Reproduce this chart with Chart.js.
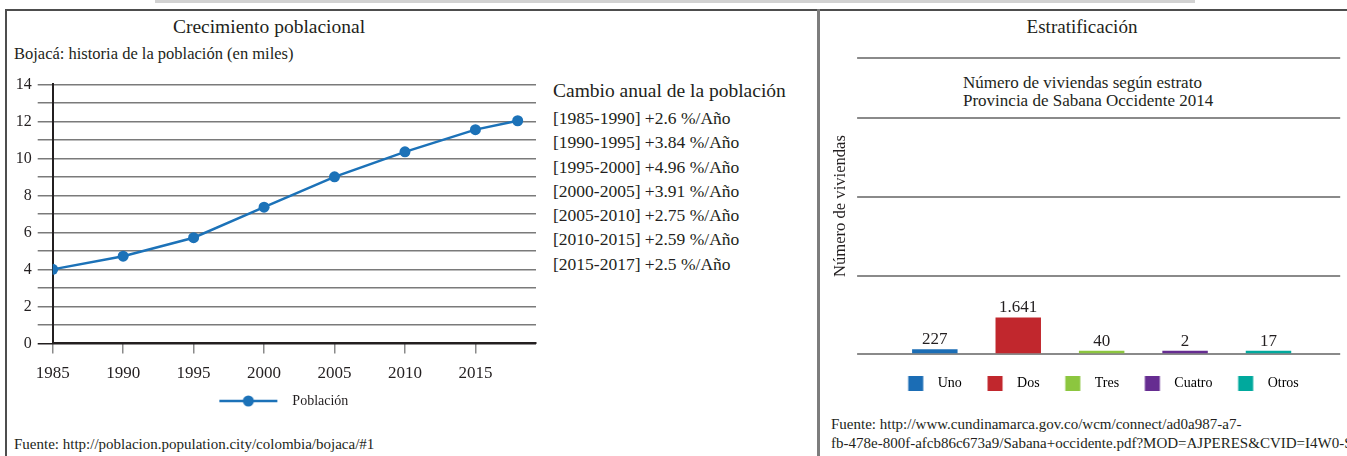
<!DOCTYPE html>
<html lang="es">
<head>
<meta charset="utf-8">
<title>Crecimiento poblacional / Estratificación</title>
<script src="https://cdn.jsdelivr.net/npm/chart.js@4.4.1/dist/chart.umd.min.js"></script>
<style>
  html, body { margin:0; padding:0; width:1347px; height:456px; overflow:hidden; background:#fff; }
  body { position:relative; font-family:"Liberation Serif","Times New Roman",serif; color:#231f20; }
  .abs { position:absolute; white-space:nowrap; }
  .rule { position:absolute; }
  canvas { position:absolute; }
</style>
</head>
<body>

<!-- frame -->
<div class="rule" style="left:155px;top:0;width:1040px;height:3px;background:#d2d2d2"></div>
<div class="rule" style="left:5px;top:9px;width:1342px;height:2px;background:#4d4d4d"></div>
<div class="rule" style="left:5px;top:9px;width:2px;height:447px;background:#4d4d4d"></div>
<div class="rule" style="left:817px;top:9px;width:3px;height:447px;background:#7d7d7d"></div>

<!-- left panel texts -->
<div class="abs" style="left:269px;top:16px;transform:translateX(-50%);font-size:19.5px;line-height:22px">Crecimiento poblacional</div>
<div class="abs" style="left:14px;top:44px;font-size:16.5px;line-height:20px">Bojacá: historia de la población (en miles)</div>
<div class="abs" style="left:553px;top:80px;font-size:19.5px;line-height:22px">Cambio anual de la población</div>
<div class="abs" id="cambioList" style="left:553px;top:106px;font-size:17.5px;line-height:24.3px"></div>
<div class="abs" style="left:14px;top:435px;font-size:15px;line-height:18px">Fuente: http://poblacion.population.city/colombia/bojaca/#1</div>

<!-- right panel texts -->
<div class="abs" style="left:1082px;top:16px;transform:translateX(-50%);font-size:19px;line-height:22px">Estratificación</div>
<div class="abs" style="left:963px;top:74px;font-size:17px;line-height:18px">Número de viviendas según estrato<br>Provincia de Sabana Occidente 2014</div>
<div class="abs" style="left:831px;top:415px;font-size:15px;line-height:19px">Fuente: http://www.cundinamarca.gov.co/wcm/connect/ad0a987-a7-<br>fb-478e-800f-afcb86c673a9/Sabana+occidente.pdf?MOD=AJPERES&amp;CVID=I4W0-S-</div>

<canvas id="popChart" width="560" height="360" style="left:0;top:62px;width:560px;height:360px"></canvas>
<canvas id="estChart" width="550" height="359" style="left:822px;top:42px;width:550px;height:359px"></canvas>

<script>
// ---- data: población de Bojacá (miles) ----
const popYears  = [1985, 1990, 1995, 2000, 2005, 2010, 2015, 2018];
const popValues = [4.0, 4.71, 5.71, 7.36, 9.0, 10.35, 11.55, 12.03];
const popXTicks = [1985, 1990, 1995, 2000, 2005, 2010, 2015];
const popYTicks = [0, 1, 2, 3, 4, 5, 6, 7, 8, 9, 10, 11, 12, 13, 14];

// ---- data: cambio anual ----
const cambioPeriodos = ['1985-1990', '1990-1995', '1995-2000', '2000-2005', '2005-2010', '2010-2015', '2015-2017'];
const cambioTasas    = ['+2.6', '+3.84', '+4.96', '+3.91', '+2.75', '+2.59', '+2.5'];

// ---- data: viviendas según estrato ----
const estratoLabels = ['Uno', 'Dos', 'Tres', 'Cuatro', 'Otros'];
const estratoValues = [227, 1641, 40, 2, 17];
const estratoColors = ['#1b6db5', '#c1272d', '#8cc63f', '#662d91', '#00a99d'];
const estratoGrid   = [0, 3500, 7000, 10500, 13200];

const FONT = '"Liberation Serif", "Times New Roman", serif';
const TEXT = '#231f20';
const BLUE = '#1c72b8';

Chart.defaults.font.family = FONT;
Chart.defaults.color = TEXT;

document.getElementById('cambioList').innerHTML =
  cambioPeriodos.map((p, i) => `[${p}] ${cambioTasas[i]} %/Año`).join('<br>');

const fmtMiles = v => String(v).replace(/\B(?=(\d{3})+(?!\d))/g, '.');

// legend symbol: line with a dot
function lineDotSymbol() {
  const c = document.createElement('canvas');
  c.width = 88; c.height = 14;
  const g = c.getContext('2d');
  g.strokeStyle = BLUE; g.lineWidth = 2.5;
  g.beginPath(); g.moveTo(22, 7); g.lineTo(80, 7); g.stroke();
  g.fillStyle = BLUE;
  g.beginPath(); g.arc(51, 7, 5.5, 0, Math.PI * 2); g.fill();
  return c;
}

// legend symbol: square with space around it
function squareSymbol(color) {
  const c = document.createElement('canvas');
  c.width = 30; c.height = 15;
  const g = c.getContext('2d');
  g.fillStyle = color;
  g.fillRect(7.5, 0, 15, 15);
  return c;
}

// ---- Crecimiento poblacional ----
new Chart(document.getElementById('popChart'), {
  type: 'line',
  data: {
    datasets: [{
      label: 'Población',
      data: popYears.map((x, i) => ({ x, y: popValues[i] })),
      borderColor: BLUE,
      backgroundColor: BLUE,
      borderWidth: 2.5,
      pointRadius: 5.5,
      pointBackgroundColor: BLUE,
      pointBorderWidth: 0,
      tension: 0
    }]
  },
  options: {
    responsive: false,
    animation: false,
    layout: { padding: { left: 9.7, right: 24, top: 22.3, bottom: 4 } },
    plugins: {
      legend: {
        position: 'bottom',
        labels: {
          usePointStyle: true,
          pointStyle: lineDotSymbol(),
          pointStyleWidth: 88,
          boxHeight: 14,
          padding: 0.2,
          color: TEXT,
          font: { size: 14 }
        }
      },
      tooltip: { enabled: false }
    },
    scales: {
      x: {
        type: 'linear',
        min: 1985,
        max: 2019.3,
        afterBuildTicks: s => { s.ticks = popXTicks.map(v => ({ value: v })); },
        grid: { drawOnChartArea: false, color: '#8a8a8a', lineWidth: 1.5, tickLength: 10 },
        border: { color: TEXT, width: 2 },
        ticks: { padding: 10, color: TEXT, font: { size: 17 }, callback: v => String(v) }
      },
      y: {
        min: 0,
        max: 14,
        afterBuildTicks: s => { s.ticks = popYTicks.map(v => ({ value: v })); },
        grid: {
          color: ctx => (ctx.tick && ctx.tick.value === 0 ? TEXT : '#7a7a7a'),
          lineWidth: 1.5,
          tickLength: 15
        },
        border: { color: TEXT, width: 2 },
        ticks: { autoSkip: false, padding: 6, color: TEXT, font: { size: 16 }, callback: v => (v % 2 === 0 ? String(v) : '') }
      }
    }
  }
});

// ---- Estratificación ----
const barValueLabels = {
  id: 'barValueLabels',
  afterDatasetsDraw(chart) {
    const ctx = chart.ctx;
    const meta = chart.getDatasetMeta(0);
    ctx.save();
    ctx.font = `17px ${FONT}`;
    ctx.fillStyle = TEXT;
    ctx.textAlign = 'center';
    ctx.textBaseline = 'alphabetic';
    meta.data.forEach((bar, i) => {
      ctx.fillText(fmtMiles(estratoValues[i]), bar.x, bar.y - 5);
    });
    ctx.restore();
  }
};

new Chart(document.getElementById('estChart'), {
  type: 'bar',
  data: {
    labels: estratoLabels,
    datasets: [{
      data: estratoValues,
      backgroundColor: estratoColors,
      borderWidth: 0,
      barPercentage: 0.545,
      categoryPercentage: 1,
      minBarLength: 3.6
    }]
  },
  options: {
    responsive: false,
    animation: false,
    layout: { padding: { left: 7, right: 1.5, top: 0, bottom: 0.5 } },
    plugins: {
      legend: {
        position: 'bottom',
        labels: {
          usePointStyle: true,
          pointStyleWidth: 30,
          boxHeight: 14,
          padding: 18.2,
          color: TEXT,
          font: { size: 14 },
          generateLabels: () => estratoLabels.map((t, i) => ({
            text: t,
            fillStyle: estratoColors[i],
            strokeStyle: estratoColors[i],
            lineWidth: 0,
            pointStyle: squareSymbol(estratoColors[i]),
            hidden: false,
            index: i
          }))
        }
      },
      tooltip: { enabled: false }
    },
    scales: {
      x: {
        grid: { display: false, drawTicks: true, tickLength: 4 },
        border: { display: false },
        ticks: { display: false }
      },
      y: {
        position: 'left',
        min: 0,
        max: 13200,
        afterBuildTicks: s => { s.ticks = estratoGrid.map(v => ({ value: v })); },
        grid: { color: '#8a8a8a', lineWidth: 2, tickLength: 36 },
        border: { display: false },
        ticks: { display: false },
        title: {
          display: true,
          text: 'Número de viviendas',
          color: TEXT,
          font: { size: 16.6 },
          padding: { top: 2, bottom: 6.2 }
        }
      },
      y2: {
        position: 'right',
        min: 0,
        max: 13200,
        afterBuildTicks: s => { s.ticks = estratoGrid.map(v => ({ value: v })); },
        grid: { color: '#8a8a8a', lineWidth: 2, tickLength: 30, drawOnChartArea: false },
        border: { display: false },
        ticks: { display: true, padding: 15.15, font: { size: 1 }, callback: () => '' }
      }
    }
  },
  plugins: [barValueLabels]
});
</script>
</body>
</html>
